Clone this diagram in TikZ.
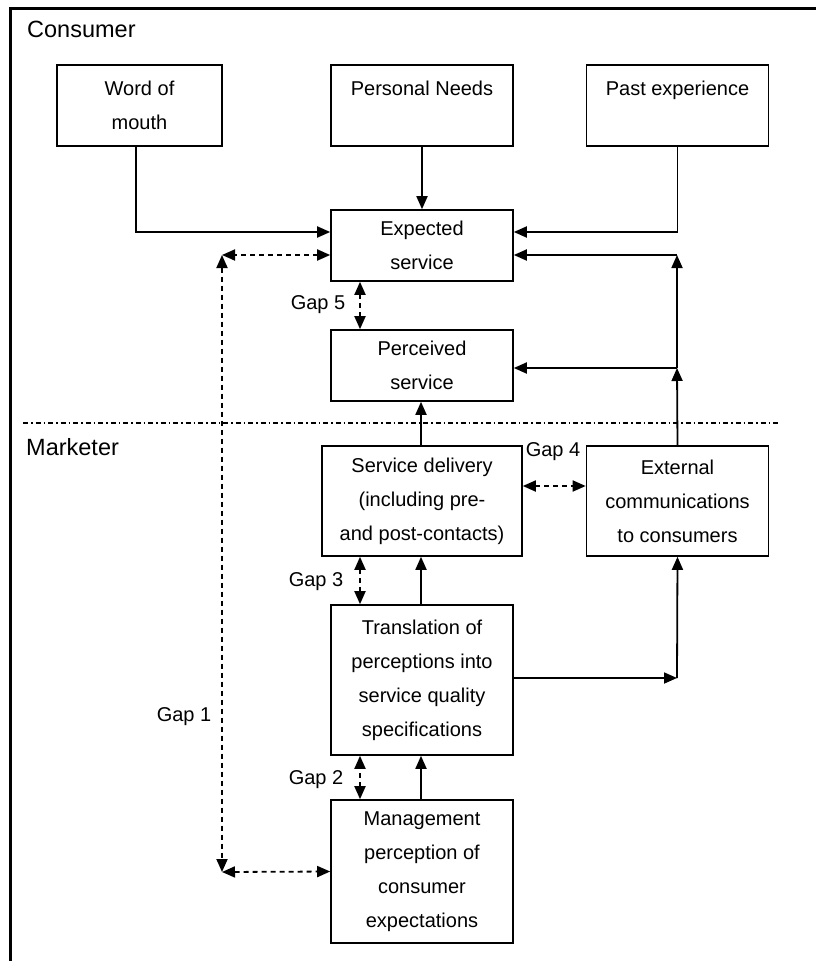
\documentclass[tikz,border=0pt]{standalone}
\usepackage{fontspec}
\setmainfont{Liberation Sans}
\usetikzlibrary{arrows.meta,calc}
\begin{document}
\begin{tikzpicture}[x=1pt,y=-1pt,
  box/.style={draw,line width=1.6pt,inner sep=0pt,align=center,
    font=\fontsize{20}{34}\selectfont},
  arr/.style={line width=1.8pt,-{Triangle[length=13pt,width=11pt]}},
  gap/.style={line width=1.8pt,dash pattern=on 5pt off 4pt,
    {Triangle[length=13pt,width=11pt]}-{Triangle[length=13pt,width=11pt]}},
  lbl/.style={inner sep=0pt,font=\fontsize{20}{24}\selectfont},
  side/.style={inner sep=0pt,font=\fontsize{23.5}{28}\selectfont}]
\useasboundingbox (0,0) rectangle (816,961);

% outer frame (open to the right and bottom)
\draw[line width=3pt] (10.5,961) -- (10.5,8.5) -- (816,8.5);

% consumer / marketer divider
\draw[line width=1.8pt,dash pattern=on 5pt off 3pt on 1.5pt off 3pt] (23,423) -- (778,423);

\node[side,anchor=base west] (consumer) at (27,37) {Consumer};
\node[side,anchor=base west] (marketer) at (26,455) {Marketer};

% consumer side
\node[box,minimum width=165pt,minimum height=81pt] (wom) at (139.5,105.5) {Word of\\mouth};
\node[box,minimum width=182pt,minimum height=81pt] (pn) at (422,105.5) {Personal Needs\\\mbox{}};
\node[box,minimum width=182pt,minimum height=81pt] (pe) at (677.5,105.5) {Past experience\\\mbox{}};
\node[box,minimum width=182pt,minimum height=71pt] (es) at (422,245.5) {Expected\\service};
\node[box,minimum width=182pt,minimum height=71pt] (ps) at (422,365.5) {Perceived\\service};

% marketer side
\node[box,minimum width=200pt,minimum height=110pt] (sd) at (422,501) {Service delivery\\(including pre-\\and post-contacts)};
\node[box,minimum width=182pt,minimum height=110pt] (ec) at (677.5,501) {External\\communications\\to consumers};
\node[box,minimum width=182pt,minimum height=150pt] (tr) at (422,680) {Translation of\\perceptions into\\service quality\\specifications};
\node[box,minimum width=182pt,minimum height=143pt] (mp) at (422,871.5) {Management\\perception of\\consumer\\expectations};

% gap labels
\node[lbl,anchor=base] (g1) at (184,721) {Gap 1};
\node[lbl,anchor=base] (g2) at (316,784) {Gap 2};
\node[lbl,anchor=base] (g3) at (316,586) {Gap 3};
\node[lbl,anchor=base] (g4) at (553,456) {Gap 4};
\node[lbl,anchor=base] (g5) at (318,309) {Gap 5};

% corner points of the connectors
\coordinate (gtop) at (222,255);
\coordinate (gbot) at (222,872);
\coordinate (rtop) at (677,255);
\coordinate (rmid) at (677,368);
\coordinate (rlow) at (677,678);

% influences on expected service
\draw[arr] ($(wom.south)+(-3.5,0)$) |- ($(es.west)+(0,-13.5)$);
\draw[arr] (pn.south) -- (es.north);
\draw[arr] (pe.south) |- ($(es.east)+(0,-13.5)$);

% gap 1
\draw[gap] ($(es.west)+(0,9.5)$) -- (gtop);
\draw[gap] (gtop) -- (gbot);
\draw[gap] (gbot) -- (mp.west);

% gap 5
\draw[gap] ($(es.south)+(-62,0)$) -- ($(ps.north)+(-62,0)$);

% delivery and communications
\draw[arr] ($(sd.north)+(-1,0)$) -- ($(ps.south)+(-1,0)$);
\draw[arr] (ec.north) -- (rmid);
\draw[arr] (rmid) -- (ps.east |- rmid);
\draw[arr] (rmid) -- (rtop);
\draw[arr] (rtop) -- (es.east |- rtop);

% gap 4
\draw[gap] ($(sd.east)+(0,-15)$) -- ($(ec.west)+(0,-15)$);

% gap 3
\draw[gap] ($(tr.north)+(-62,0)$) -- ($(sd.south)+(-62,0)$);
\draw[arr] ($(tr.north)+(-1,0)$) -- ($(sd.south)+(-1,0)$);

% specifications to communications
\draw[arr] (tr.east |- rlow) -- (rlow);
\draw[arr] (rlow) -- (ec.south);

% gap 2
\draw[gap] ($(mp.north)+(-62,0)$) -- ($(tr.south)+(-62,0)$);
\draw[arr] ($(mp.north)+(-1,0)$) -- ($(tr.south)+(-1,0)$);
\end{tikzpicture}
\end{document}
